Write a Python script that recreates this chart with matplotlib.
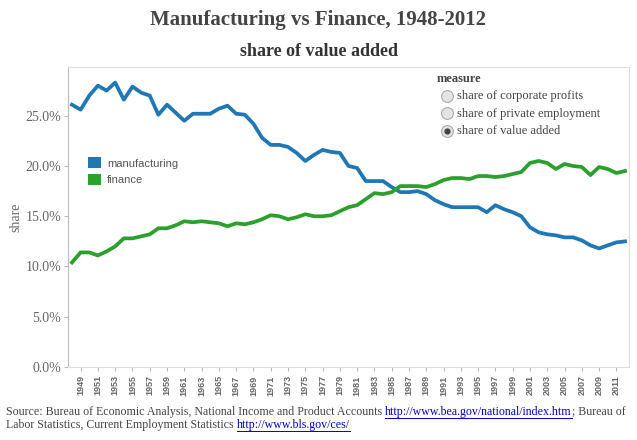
import matplotlib
matplotlib.use("Agg")
import matplotlib.pyplot as plt
from matplotlib.patches import Patch
from matplotlib.lines import Line2D

# data (share of value added, %)
years = list(range(1948, 2013))
manufacturing = [26.1, 25.6, 27.0, 28.0, 27.5, 28.3, 26.6, 27.9, 27.3, 27.0,
                 25.1, 26.1, 25.3, 24.5, 25.2, 25.2, 25.2, 25.7, 26.0, 25.2,
                 25.1, 24.2, 22.8, 22.1, 22.1, 21.9, 21.3, 20.5, 21.1, 21.6,
                 21.4, 21.3, 20.0, 19.8, 18.5, 18.5, 18.5, 17.9, 17.4, 17.4,
                 17.5, 17.2, 16.6, 16.2, 15.9, 15.9, 15.9, 15.9, 15.4, 16.1,
                 15.7, 15.4, 15.0, 13.9, 13.4, 13.2, 13.1, 12.9, 12.9, 12.6,
                 12.1, 11.8, 12.1, 12.4, 12.5]
finance = [10.4, 11.4, 11.4, 11.1, 11.5, 12.0, 12.8, 12.8, 13.0, 13.2,
           13.8, 13.8, 14.1, 14.5, 14.4, 14.5, 14.4, 14.3, 14.0, 14.3,
           14.2, 14.4, 14.7, 15.1, 15.0, 14.7, 14.9, 15.2, 15.0, 15.0,
           15.1, 15.5, 15.9, 16.1, 16.7, 17.3, 17.2, 17.4, 18.0, 18.0,
           18.0, 17.9, 18.2, 18.6, 18.8, 18.8, 18.7, 19.0, 19.0, 18.9,
           19.0, 19.2, 19.4, 20.3, 20.5, 20.3, 19.7, 20.2, 20.0, 19.9,
           19.1, 19.9, 19.7, 19.3, 19.5]
tick_years = list(range(1949, 2012, 2))
y_ticks = [0, 5, 10, 15, 20, 25]
measures = ["share of corporate profits", "share of private employment", "share of value added"]

blue = "#1f77b4"
green = "#2ca02c"
serif = "Liberation Serif"

fig = plt.figure(figsize=(6.37, 4.4), dpi=100)
ax = fig.add_axes([68 / 637, 1 - 367 / 440, 561 / 637, 300 / 440])

ax.plot(years, manufacturing, color=blue, lw=2.7, solid_joinstyle="round")
ax.plot(years, finance, color=green, lw=2.7, solid_joinstyle="round")

ax.set_xlim(1947.54, 2012.46)
ax.set_ylim(0, 29.85)

ax.set_yticks(y_ticks)
ax.set_yticklabels([f"{v:.1f}%" for v in y_ticks], family=serif, fontsize=10, color="#666666")
ax.set_xticks(tick_years)
ax.set_xticklabels([str(y) for y in tick_years], rotation=90, family="Liberation Sans",
                   fontsize=6.5, fontweight="bold", color="#666666")
ax.tick_params(axis="y", length=3, color="#bbbbbb", pad=2)
ax.tick_params(axis="x", length=3, color="#bbbbbb", pad=3)
for s in ax.spines.values():
    s.set_color("#dddddd")
    s.set_linewidth(0.8)
ax.spines["left"].set_color("#bbbbbb")
ax.set_ylabel("share", family=serif, fontsize=10, color="#666666", labelpad=2)

# legend
handles = [Patch(facecolor=blue, label="manufacturing"), Patch(facecolor=green, label="finance")]
leg = ax.legend(handles=handles, loc="upper left", bbox_to_anchor=(0.018, 0.733), frameon=False,
                handlelength=1.2, handleheight=1.2, handletextpad=0.5, labelspacing=0.45,
                prop={"family": "Liberation Sans", "size": 8})
for t in leg.get_texts():
    t.set_color("#555555")

# titles
fig.text(0.5, 1 - 20 / 440, "Manufacturing vs Finance, 1948-2012", ha="center", va="center",
         family=serif, fontsize=15, fontweight="bold", color="#444444")
fig.text(0.5, 1 - 52 / 440, "share of value added", ha="center", va="center",
         family=serif, fontsize=13, fontweight="bold", color="#333333")

# measure selector
fig.text(437 / 637, 1 - 79 / 440, "measure", ha="left", va="center", family=serif,
         fontsize=9, fontweight="bold", color="#444444")
for i, m in enumerate(measures):
    yy = 1 - (96 + 17.5 * i) / 440
    fig.add_artist(Line2D([447 / 637], [yy], marker="o", markersize=8.5, markerfacecolor="#e4e4e4",
                          markeredgecolor="#aaaaaa", markeredgewidth=0.8, transform=fig.transFigure))
    if m == "share of value added":
        fig.add_artist(Line2D([447 / 637], [yy], marker="o", markersize=3.5, markerfacecolor="#444444",
                              markeredgecolor="#444444", transform=fig.transFigure))
    fig.text(457 / 637, yy, m, ha="left", va="center", family=serif, fontsize=9, color="#444444")

# source note with links
fig.canvas.draw()
renderer = fig.canvas.get_renderer()


def write_line(pieces, x0, y0):
    x = x0
    for txt, link in pieces:
        t = fig.text(x / 637, 1 - y0 / 440, txt, ha="left", va="center", family=serif,
                     fontsize=8.6, color="#0000cc" if link else "#444444")
        bb = t.get_window_extent(renderer)
        if link:
            uy = 1 - (y0 + 5.5) / 440
            fig.add_artist(Line2D([x / 637, (x + bb.width) / 637], [uy, uy], color="#0000cc",
                                  lw=0.7, transform=fig.transFigure))
        x += bb.width


write_line([("Source: Bureau of Economic Analysis, National Income and Product Accounts ", False),
            ("http://www.bea.gov/national/index.htm", True), ("; Bureau of", False)], 6, 412)
write_line([("Labor Statistics, Current Employment Statistics ", False),
            ("http://www.bls.gov/ces/", True)], 6, 425)

fig.savefig("out.png", dpi=100)
